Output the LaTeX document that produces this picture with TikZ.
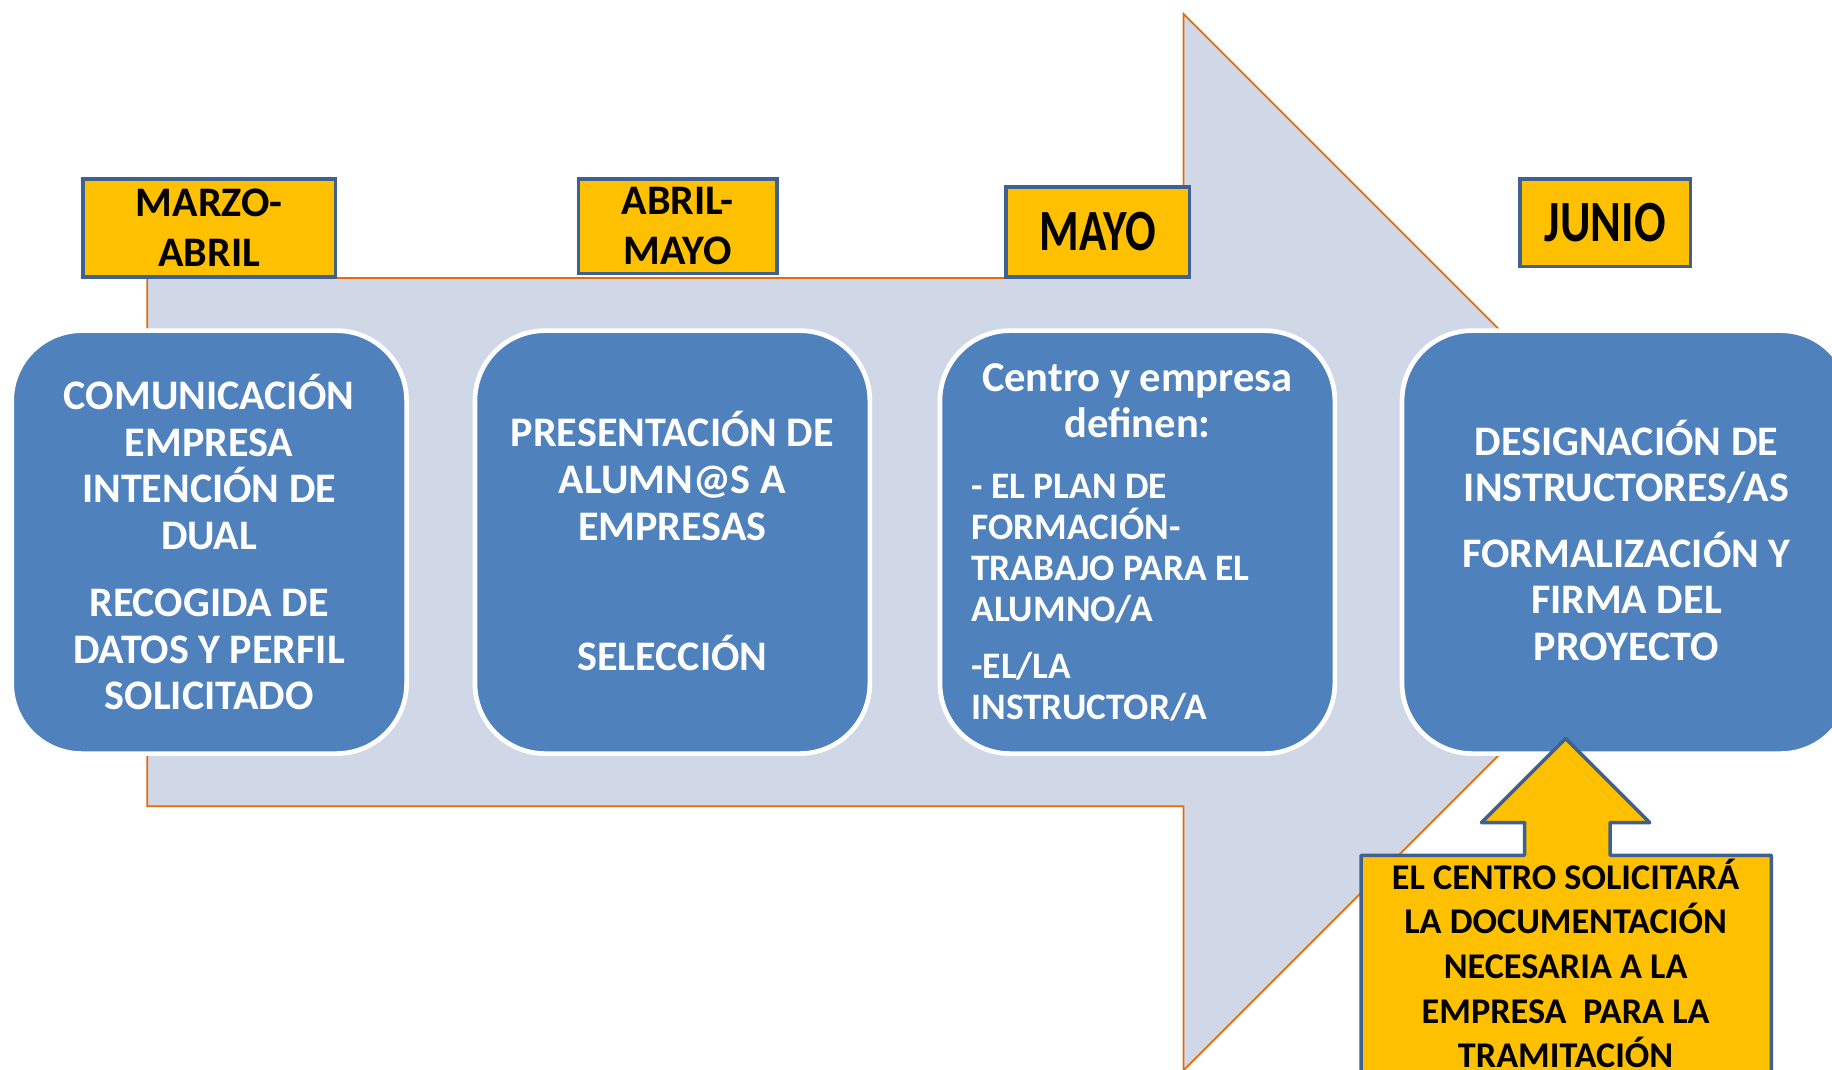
\documentclass[tikz,border=0pt]{standalone}
\usepackage{fontspec}
\setmainfont{Carlito}
\definecolor{arrowfill}{HTML}{D0D8E8}
\definecolor{arroworange}{HTML}{E46C0A}
\definecolor{boxblue}{HTML}{4F81BD}
\definecolor{labyellow}{HTML}{FFC000}
\definecolor{labborder}{HTML}{3F6190}
\begin{document}
\begin{tikzpicture}[x=0.5pt,y=-0.5pt,
  stepbox/.style={draw=white, line width=2pt, fill=boxblue, rounded corners=30pt, minimum width=169pt, minimum height=181pt, inner sep=0pt},
  boxtext/.style={text=white, font=\bfseries\fontsize{18}{20}\selectfont, align=center, inner sep=0pt},
  monthlabel/.style={draw=labborder, line width=1.5pt, fill=labyellow, inner sep=0pt, align=center, font=\bfseries\fontsize{18}{21.5}\selectfont},
]
\useasboundingbox (0,0) rectangle (1568,915);
\fill[white] (0,0) rectangle (1568,915);
\clip (0,0) rectangle (1568,915);
% big background arrow
\draw[arroworange, line width=0.75pt, fill=arrowfill]
  (126,238) -- (1013,238) -- (1013,12) -- (1465,464) -- (1013,916) -- (1013,690) -- (126,690) -- cycle;
% step boxes
\node[stepbox] (b1) at (179,464) {};
\node[stepbox] (b2) at (575.5,464) {};
\node[stepbox] (b3) at (973.5,464) {};
\node[stepbox, minimum width=192pt] (b4) at (1392,464) {};
% box texts
\node[boxtext] (t1) at (b1.center) {COMUNICACIÓN\\EMPRESA\\INTENCIÓN DE\\DUAL\\[8.5pt]RECOGIDA DE\\DATOS Y PERFIL\\SOLICITADO};
\node[boxtext] (t2) at (575.5,463) {PRESENTACIÓN DE\\ALUMN@S A\\EMPRESAS\\[35.5pt]SELECCIÓN};
\node[boxtext, font=\bfseries\fontsize{18.2}{20}\selectfont] (t3a) at (973.5,343) {Centro y empresa\\definen:};
\node[boxtext, align=left, anchor=west, font=\bfseries\fontsize{16}{17.5}\selectfont] (t3b) at (831,511.5) {- EL PLAN DE\\FORMACIÓN-\\TRABAJO PARA EL\\ALUMNO/A\\[7pt]-EL/LA\\INSTRUCTOR/A};
\node[boxtext] (t4) at (1392,462.5) {DESIGNACIÓN DE\\INSTRUCTORES/AS\\[8pt]FORMALIZACIÓN Y\\FIRMA DEL\\PROYECTO};
% month labels
\node[monthlabel, minimum width=108pt, minimum height=42pt] (l1) at (179,195) {MARZO-\\ABRIL};
\node[monthlabel, minimum width=85pt, minimum height=40.5pt] (l2) at (580,193.5) {ABRIL-\\MAYO};
\node[monthlabel, minimum width=78.5pt, minimum height=38.5pt, font=\bfseries\fontsize{20}{22}\selectfont] (l3) at (939.5,198.5) {\scalebox{0.97}[1.25]{MAYO}};
\node[monthlabel, minimum width=73pt, minimum height=37.5pt, font=\bfseries\fontsize{20}{22}\selectfont] (l4) at (1374,190.5) {\scalebox{1}[1.25]{JUNIO}};
% up-arrow callout
\draw[draw=labborder, line width=1.5pt, fill=labyellow, line join=round]
  (1165,732) -- (1305,732) -- (1305,704) -- (1268,704) -- (1340,632) -- (1412,704)
  -- (1378,704) -- (1378,732) -- (1516,732) -- (1516,960) -- (1165,960) -- cycle;
\node[inner sep=0pt, align=center, font=\bfseries\fontsize{15.5}{19.1}\selectfont] (c) at (1340,824.5)
  {EL CENTRO SOLICITARÁ\\LA DOCUMENTACIÓN\\NECESARIA A LA\\EMPRESA \ PARA LA\\TRAMITACIÓN};
\end{tikzpicture}
\end{document}
